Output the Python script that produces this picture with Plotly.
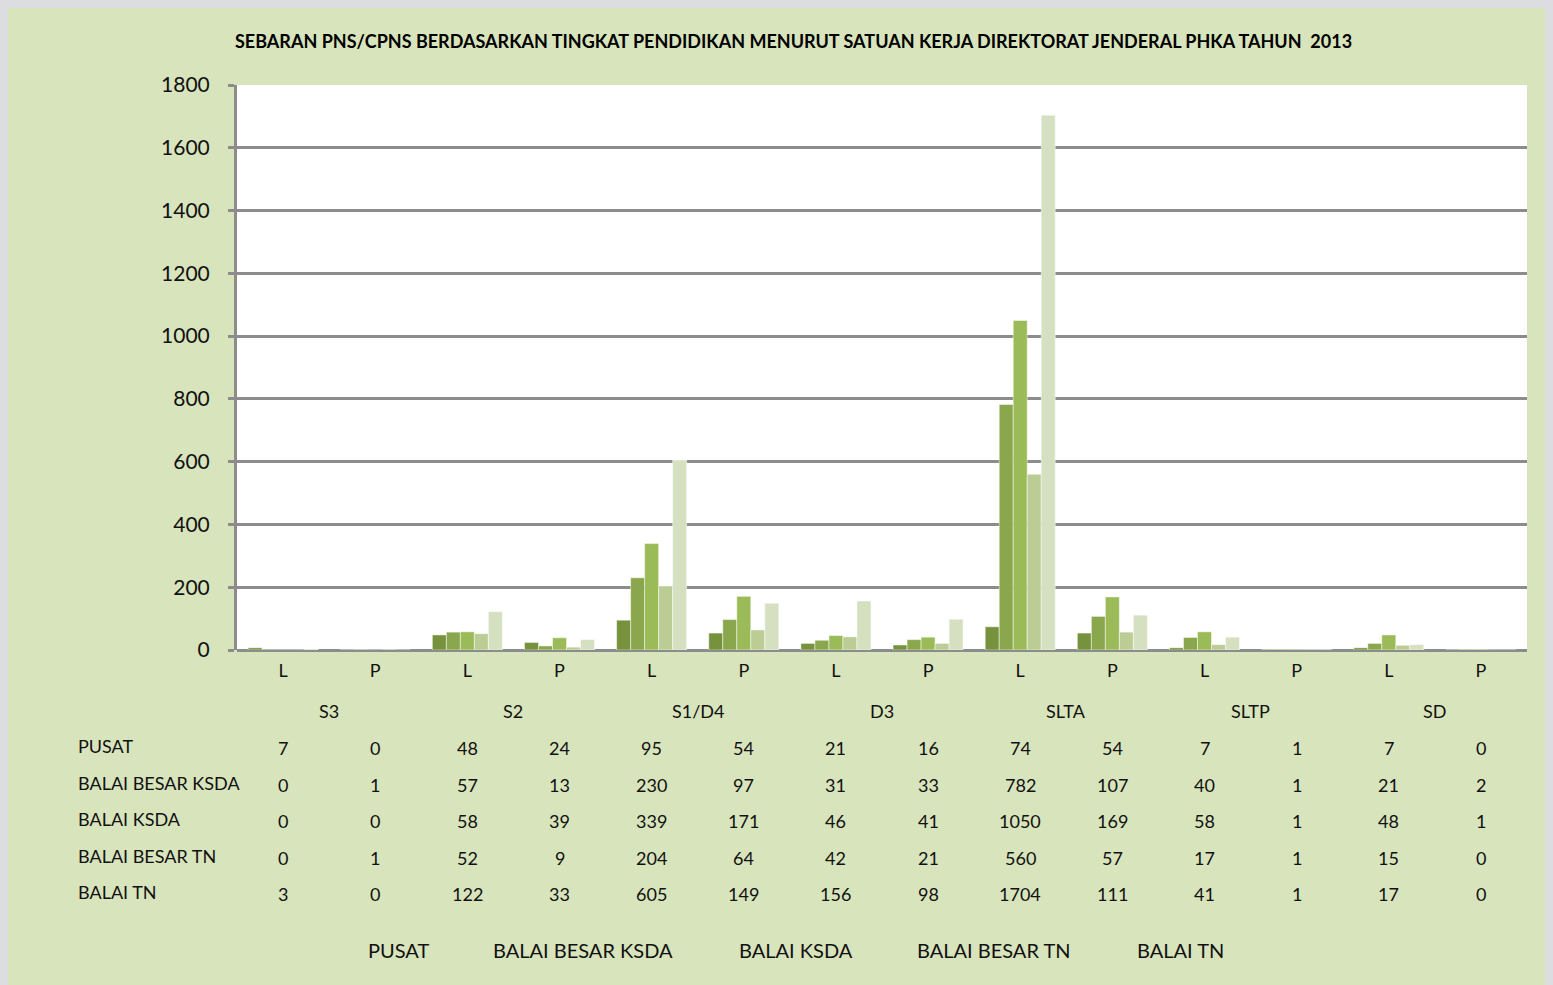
import plotly.graph_objects as go

levels = ["S3", "S2", "S1/D4", "D3", "SLTA", "SLTP", "SD"]
genders = ["L", "P"]
categories = [f"{lv}-{g}" for lv in levels for g in genders]

series_names = ["PUSAT", "BALAI BESAR KSDA", "BALAI KSDA", "BALAI BESAR TN", "BALAI TN"]
pusat = [7, 0, 48, 24, 95, 54, 21, 16, 74, 54, 7, 1, 7, 0]
balai_besar_ksda = [0, 1, 57, 13, 230, 97, 31, 33, 782, 107, 40, 1, 21, 2]
balai_ksda = [0, 0, 58, 39, 339, 171, 46, 41, 1050, 169, 58, 1, 48, 1]
balai_besar_tn = [0, 1, 52, 9, 204, 64, 42, 21, 560, 57, 17, 1, 15, 0]
balai_tn = [3, 0, 122, 33, 605, 149, 156, 98, 1704, 111, 41, 1, 17, 0]
series_values = [pusat, balai_besar_ksda, balai_ksda, balai_besar_tn, balai_tn]
colors = ["#76923c", "#8aa74e", "#9bbb59", "#bbcd94", "#d4e0c0"]

title = "SEBARAN PNS/CPNS BERDASARKAN TINGKAT PENDIDIKAN MENURUT SATUAN KERJA DIREKTORAT JENDERAL PHKA TAHUN  2013"

FONT = "Lato"
x_idx = list(range(len(categories)))

fig = go.Figure()
for name, vals, col in zip(series_names, series_values, colors):
    fig.add_trace(go.Bar(x=x_idx, y=vals, name=name, marker_color=col,
                         marker_line_color="rgba(255,255,255,0.8)", marker_line_width=0.6))

# page-coordinate helpers (plot area: x 237..1527, y 85..650)
PX0, PX1, PY0, PY1 = 237, 1527, 85, 650
def yp(py):
    return (PY1 - py) / (PY1 - PY0)
def xp(px):
    return (px - PX0) / (PX1 - PX0)

ann = []
ann.append(dict(text=title, x=xp(793), y=yp(41), xref="paper", yref="paper",
                xanchor="center", yanchor="middle",
                showarrow=False, font=dict(size=18, color="#000", family=FONT, weight="bold")))
for i, lv in enumerate(levels):
    ann.append(dict(text=lv, x=2 * i + 0.5, y=yp(711), xref="x", yref="paper",
                    xanchor="center", yanchor="middle",
                    showarrow=False, font=dict(size=18, color="#111", family=FONT)))
row_y = [748, 785, 821, 858, 894]
for name, vals, ry in zip(series_names, series_values, row_y):
    ann.append(dict(text=name, x=xp(76), y=yp(ry - 2), xref="paper", yref="paper",
                    xanchor="left", yanchor="middle",
                    showarrow=False, font=dict(size=18, color="#111", family=FONT)))
    for j, v in enumerate(vals):
        ann.append(dict(text=str(v), x=j, y=yp(ry), xref="x", yref="paper",
                        xanchor="center", yanchor="middle",
                        showarrow=False, font=dict(size=18, color="#111", family=FONT)))
legend_x = [398, 583, 796, 994, 1180]
for name, lx in zip(series_names, legend_x):
    ann.append(dict(text=name, x=xp(lx), y=yp(950), xref="paper", yref="paper",
                    xanchor="center", yanchor="middle",
                    showarrow=False, font=dict(size=20, color="#111", family=FONT)))

fig.update_layout(
    width=1545, height=977,
    margin=dict(l=229, r=26, t=77, b=335),
    paper_bgcolor="#d8e4bc",
    plot_bgcolor="white",
    barmode="group", bargap=0.24, bargroupgap=0,
    showlegend=False,
    annotations=ann,
    font=dict(family=FONT, color="#111"),
)
fig.update_xaxes(range=[-0.5, 13.5], tickmode="array", tickvals=x_idx,
                 ticktext=[g for lv in levels for g in genders],
                 tickfont=dict(size=18, family=FONT, color="#111"),
                 showgrid=False, showline=False, ticks="", ticklabelstandoff=8,
                 zeroline=False)
fig.update_yaxes(range=[0, 1800], dtick=200, tickfont=dict(size=21, family=FONT, color="#111"),
                 showgrid=True, gridcolor="#8c8c8c", gridwidth=3,
                 zeroline=True, zerolinecolor="#8c8c8c", zerolinewidth=3,
                 showline=True, linecolor="#8c8c8c", linewidth=3,
                 ticks="outside", ticklen=6, tickcolor="#8c8c8c", tickwidth=3,
                 ticklabelstandoff=14)

fig.write_html("out.html", post_script="document.body.style.background='#dcdde0';")
